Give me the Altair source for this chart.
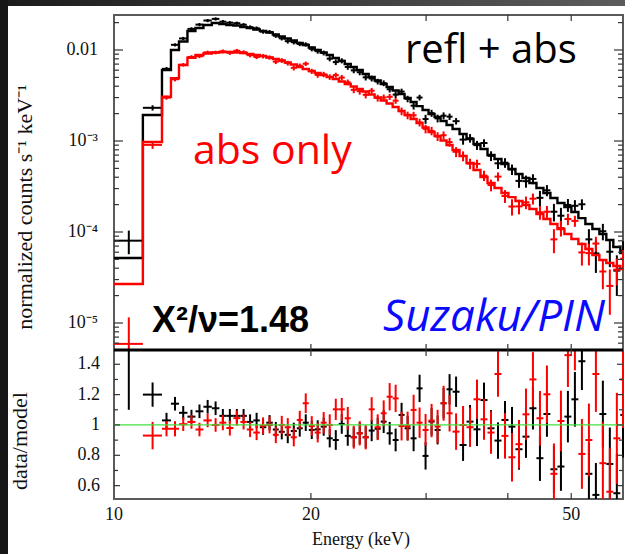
import altair as alt
import pandas as pd

# ---------------- data ----------------
E_EDGES = [10.00, 11.07, 11.84, 12.22, 12.57, 12.95, 13.32, 13.70, 14.11, 14.49,
           14.85, 15.22, 15.60, 15.96, 16.33, 16.71, 17.09, 17.49, 17.86, 18.24,
           18.63, 19.03, 19.43, 19.85, 20.27, 20.70, 21.14, 21.60, 22.06, 22.53,
           23.01, 23.50, 24.00, 24.51, 25.03, 25.57, 26.11, 26.67, 27.23, 27.81,
           28.41, 29.01, 29.63, 30.26, 30.91, 31.57, 32.24, 32.93, 33.75, 34.59,
           35.45, 36.33, 37.24, 38.17, 39.12, 40.09, 41.09, 42.12, 43.16, 44.24,
           45.34, 46.47, 47.63, 48.82, 50.03, 51.28, 52.56, 53.87, 55.21, 56.58,
           57.99, 59.44, 60.90]

MODEL_REFL = [5.18e-5, 1.93e-3, 6.03e-3, 1.00e-2, 1.240e-2, 1.617e-2, 1.745e-2, 1.883e-2, 1.980e-2, 1.931e-2,
              1.883e-2, 1.859e-2, 1.789e-2, 1.745e-2, 1.680e-2, 1.617e-2, 1.557e-2, 1.480e-2, 1.407e-2, 1.338e-2,
              1.272e-2, 1.194e-2, 1.135e-2, 1.065e-2, 1.000e-2, 9.39e-3, 8.81e-3, 8.17e-3, 7.57e-3, 7.02e-3,
              6.50e-3, 6.03e-3, 5.45e-3, 5.05e-3, 4.62e-3, 4.23e-3, 3.92e-3, 3.59e-3, 3.28e-3, 2.97e-3,
              2.68e-3, 2.42e-3, 2.19e-3, 1.98e-3, 1.835e-3, 1.659e-3, 1.499e-3, 1.355e-3, 1.194e-3, 1.052e-3,
              9.27e-4, 8.17e-4, 7.02e-4, 6.34e-4, 5.59e-4, 4.92e-4, 4.34e-4, 3.92e-4, 3.45e-4, 3.04e-4,
              2.68e-4, 2.36e-4, 2.08e-4, 1.88e-4, 1.66e-4, 1.42e-4, 1.224e-4, 1.079e-4, 9.51e-5, 8.17e-5,
              6.84e-5, 5.88e-5]

MODEL_ABS = [2.68e-5, 9.75e-4, 3.07e-3, 4.89e-3, 6.84e-3, 8.23e-3, 8.81e-3, 9.15e-3, 9.39e-3, 9.51e-3,
             9.51e-3, 9.39e-3, 9.27e-3, 9.04e-3, 8.81e-3, 8.59e-3, 8.27e-3, 7.96e-3, 7.67e-3, 7.29e-3,
             6.93e-3, 6.50e-3, 6.18e-3, 5.88e-3, 5.59e-3, 5.31e-3, 5.05e-3, 4.80e-3, 4.51e-3, 4.23e-3,
             3.97e-3, 3.73e-3, 3.50e-3, 3.24e-3, 3.01e-3, 2.79e-3, 2.58e-3, 2.36e-3, 2.14e-3, 1.93e-3,
             1.745e-3, 1.577e-3, 1.407e-3, 1.256e-3, 1.135e-3, 1.013e-3, 9.04e-4, 7.96e-4, 6.84e-4, 5.73e-4,
             4.80e-4, 4.02e-4, 3.45e-4, 3.04e-4, 2.68e-4, 2.42e-4, 2.19e-4, 1.98e-4, 1.789e-4, 1.577e-4,
             1.389e-4, 1.224e-4, 1.079e-4, 9.51e-5, 8.38e-5, 7.38e-5, 6.50e-5, 5.59e-5, 4.92e-5, 4.56e-5,
             4.23e-5, 3.92e-5]

RATIO_REFL = [1.55, 1.20, 1.03, 1.14, 1.08, 1.055, 1.09, 1.12, 1.11, 1.06,
              1.06, 1.06, 1.06, 1.02, 1.03, 0.985, 1.015, 0.97, 0.955, 0.935,
              0.96, 0.978, 1.015, 0.967, 0.971, 0.989, 0.912, 0.901, 1.007, 0.928,
              0.919, 0.945, 0.919, 0.963, 0.975, 1.022, 0.945, 0.901, 1.066, 0.978,
              0.912, 1.241, 0.796, 1.022, 0.967, 1.143, 1.235, 1.219, 0.868, 1.022,
              0.971, 1.164, 0.978, 0.897, 1.033, 0.989, 0.840, 0.923, 1.110, 0.781,
              1.072, 0.708, 0.726, 1.055, 1.169, 1.42, 0.678, 0.539, 1.072, 0.743,
              0.55, 1.066]
ERR_REFL = [0.45, 0.08, 0.05, 0.045, 0.045, 0.045, 0.045, 0.045, 0.045, 0.045,
            0.045, 0.045, 0.045, 0.05, 0.05, 0.05, 0.05, 0.05, 0.05, 0.055,
            0.055, 0.055, 0.055, 0.06, 0.06, 0.06, 0.06, 0.065, 0.065, 0.065,
            0.065, 0.07, 0.07, 0.07, 0.07, 0.075, 0.075, 0.075, 0.08, 0.08,
            0.085, 0.09, 0.09, 0.09, 0.095, 0.10, 0.10, 0.10, 0.105, 0.11,
            0.11, 0.115, 0.12, 0.12, 0.125, 0.13, 0.135, 0.14, 0.14, 0.15,
            0.15, 0.155, 0.16, 0.17, 0.18, 0.19, 0.20, 0.21, 0.22, 0.24,
            0.26, 0.28]
RATIO_ABS = [0.22, 0.93, 0.975, 0.975, 1.005, 1.02, 0.97, 1.03, 1.0, 1.015,
             0.98, 1.045, 1.02, 0.97, 0.95, 0.995, 1.0, 0.935, 1.0, 0.985,
             0.919, 1.033, 1.143, 0.993, 0.95, 1.015, 1.0, 1.103, 1.103, 1.044,
             0.919, 0.945, 0.919, 1.103, 0.985, 1.077, 1.186, 1.175, 0.993, 0.993,
             1.099, 1.015, 0.967, 1.029, 0.99, 1.143, 1.077, 0.956, 1.0, 0.985,
             1.169, 1.037, 0.95, 1.336, 0.928, 0.787, 0.873, 1.070, 1.300, 1.044,
             1.202, 0.678, 1.026, 1.46, 1.58, 0.809, 0.901, 1.336, 0.748, 0.56,
             0.912, 1.30]
ERR_ABS = [0.21, 0.09, 0.05, 0.05, 0.045, 0.045, 0.045, 0.045, 0.045, 0.05,
           0.05, 0.05, 0.05, 0.05, 0.05, 0.055, 0.055, 0.055, 0.06, 0.06,
           0.06, 0.06, 0.065, 0.065, 0.065, 0.07, 0.07, 0.07, 0.075, 0.075,
           0.075, 0.08, 0.08, 0.08, 0.085, 0.085, 0.09, 0.09, 0.095, 0.095,
           0.10, 0.10, 0.105, 0.11, 0.11, 0.115, 0.12, 0.12, 0.125, 0.13,
           0.13, 0.135, 0.14, 0.15, 0.15, 0.16, 0.16, 0.17, 0.18, 0.18,
           0.19, 0.20, 0.20, 0.21, 0.22, 0.23, 0.24, 0.25, 0.27, 0.29,
           0.30, 0.32]

# tick positions and tick labels
Y_MAJOR = [1e-5, 1e-4, 1e-3, 1e-2]
Y_LABELS = ["10⁻⁵", "10⁻⁴", "10⁻³", "0.01"]
Y_MINOR = [6e-6, 7e-6, 8e-6, 9e-6,
           2e-5, 3e-5, 4e-5, 5e-5, 6e-5, 7e-5, 8e-5, 9e-5,
           2e-4, 3e-4, 4e-4, 5e-4, 6e-4, 7e-4, 8e-4, 9e-4,
           2e-3, 3e-3, 4e-3, 5e-3, 6e-3, 7e-3, 8e-3, 9e-3,
           2e-2]
X_TICKS = [20, 30, 40, 50]
X_LABEL_VALUES = [10, 20, 50]
X_LABELS = ["10", "20", "50"]
R_MAJOR = [0.6, 0.8, 1.0, 1.2, 1.4]
R_LABELS = ["0.6", "0.8", "1", "1.2", "1.4"]
R_MINOR = [0.7, 0.9, 1.1, 1.3]

# ---------------- layout / style ----------------
W, H1, H2 = 509, 335, 149
H = H1 + H2
XS = alt.Scale(type="log", domain=[10, 60], nice=False, clamp=True)
YS = alt.Scale(type="log", domain=[5.05e-6, 0.02425], range=[H1, 0], nice=False, clamp=True)
RS = alt.Scale(type="linear", domain=[0.512, 1.494], range=[H, H1], nice=False, zero=False, clamp=True)
SERIF = "Liberation Serif"
BLACK, RED, GREEN, BLUE = "#000000", "#ff0000", "#3ee03e", "#0a0aff"
TICK = "#333333"
LAB = "#111111"

lo = E_EDGES[:-1]
hi = E_EDGES[1:]


def frames(model, ratio, err):
    df = pd.DataFrame({"lo": lo, "hi": hi, "model": model, "ratio": ratio, "err": err})
    df["cen"] = (df["lo"] + df["hi"]) / 2
    df["data"] = df["model"] * df["ratio"]
    df["dlo"] = df["model"] * (df["ratio"] - df["err"])
    df["dhi"] = df["model"] * (df["ratio"] + df["err"])
    df["rlo"] = df["ratio"] - df["err"]
    df["rhi"] = df["ratio"] + df["err"]
    step = pd.DataFrame({"E": list(lo) + [hi[-1]], "v": list(model) + [model[-1]]})
    inside = df[(df["ratio"] > 0.512) & (df["ratio"] < 1.494)]
    return df, step, inside


df_b, step_b, in_b = frames(MODEL_REFL, RATIO_REFL, ERR_REFL)
df_r, step_r, in_r = frames(MODEL_ABS, RATIO_ABS, ERR_ABS)
dummy = pd.DataFrame({"a": [0]})


def xq(f):
    return alt.X(f, type="quantitative", scale=XS, axis=None)


def yq(f):
    return alt.Y(f, type="quantitative", scale=YS, axis=None)


def rq(f):
    return alt.Y(f, type="quantitative", scale=RS, axis=None)


def top_series(df, step, color):
    line = alt.Chart(step).mark_line(interpolate="step-after", color=color, strokeWidth=2.4).encode(
        x=xq("E"), y=yq("v"))
    hb = alt.Chart(df).mark_rule(color=color, strokeWidth=2).encode(
        x=xq("lo"), x2="hi", y=yq("data"))
    vb = alt.Chart(df).mark_rule(color=color, strokeWidth=2).encode(
        x=xq("cen"), y=yq("dlo"), y2="dhi")
    return [line, hb, vb]


def bot_series(df, inside, color):
    hb = alt.Chart(inside).mark_rule(color=color, strokeWidth=2).encode(
        x=xq("lo"), x2="hi", y=rq("ratio"))
    vb = alt.Chart(df).mark_rule(color=color, strokeWidth=2).encode(
        x=xq("cen"), y=rq("rlo"), y2="rhi")
    return [hb, vb]


def text(s, x, y, align="left", baseline="alphabetic", **kw):
    return alt.Chart(dummy).mark_text(text=s, align=align, baseline=baseline, **kw).encode(
        x=alt.value(x), y=alt.value(y))


# ---------------- frame decoration ----------------
left_band = alt.Chart(dummy).mark_rect(color="#161616").encode(
    x=alt.value(-114), x2=alt.value(-106), y=alt.value(-15), y2=alt.value(H + 55))
top_band = alt.Chart(dummy).mark_rect(
    fill=alt.LinearGradient(gradient="linear", x1=0, x2=1, y1=0, y2=0,
                            stops=[alt.GradientStop(color="#1c1c1c", offset=0),
                                   alt.GradientStop(color="#5c5c5c", offset=1)])).encode(
    x=alt.value(-106), x2=alt.value(W + 2), y=alt.value(-15), y2=alt.value(-9))

# ---------------- ticks ----------------
ymaj = pd.DataFrame({"v": Y_MAJOR, "t": Y_LABELS})
ymin = pd.DataFrame({"v": Y_MINOR})
xt = pd.DataFrame({"E": X_TICKS})
xl = pd.DataFrame({"E": X_LABEL_VALUES, "t": X_LABELS})
rmaj = pd.DataFrame({"r": R_MAJOR, "t": R_LABELS})
rmin = pd.DataFrame({"r": R_MINOR})
one = pd.DataFrame({"r": [1.0]})


def rule(df, **enc):
    return alt.Chart(df).mark_rule(color=TICK, strokeWidth=1.2).encode(**enc)


ticks = [
    rule(ymaj, y=yq("v"), x=alt.value(0), x2=alt.value(9)),
    rule(ymin, y=yq("v"), x=alt.value(0), x2=alt.value(5)),
    rule(ymaj, y=yq("v"), x=alt.value(W), x2=alt.value(W - 9)),
    rule(ymin, y=yq("v"), x=alt.value(W), x2=alt.value(W - 5)),
    rule(xt, x=xq("E"), y=alt.value(0), y2=alt.value(6)),
    rule(xt, x=xq("E"), y=alt.value(H1 - 6), y2=alt.value(H1 + 6)),
    rule(xt, x=xq("E"), y=alt.value(H), y2=alt.value(H - 6)),
    rule(rmaj, y=rq("r"), x=alt.value(0), x2=alt.value(6)),
    rule(rmin, y=rq("r"), x=alt.value(0), x2=alt.value(4)),
    rule(rmaj, y=rq("r"), x=alt.value(W), x2=alt.value(W - 6)),
    rule(rmin, y=rq("r"), x=alt.value(W), x2=alt.value(W - 4)),
]

labels = [
    alt.Chart(ymaj).mark_text(align="right", baseline="middle", font=SERIF, fontSize=18, color=LAB).encode(
        y=yq("v"), x=alt.value(-16), text="t:N"),
    alt.Chart(rmaj).mark_text(align="right", baseline="middle", font=SERIF, fontSize=18, color=LAB).encode(
        y=rq("r"), x=alt.value(-14), text="t:N"),
    alt.Chart(xl).mark_text(align="center", baseline="alphabetic", font=SERIF, fontSize=18, color=LAB).encode(
        x=xq("E"), y=alt.value(H + 21), text="t:N"),
    text("normalized counts s⁻¹ keV⁻¹", -89, 192, align="center", baseline="middle",
         angle=270, font=SERIF, fontSize=22, color=LAB),
    text("data/model", -94, H1 + 91, align="center", baseline="middle",
         angle=270, font=SERIF, fontSize=22, color=LAB),
    text("Energy (keV)", 247, H + 46, align="center", font=SERIF, fontSize=18, color=LAB),
]

annotations = [
    text("refl + abs", 291, 48, font="Open Sans", fontSize=40, color=BLACK),
    text("abs only", 79, 149, font="Open Sans", fontSize=41, color=RED),
    text("Χ²/ν=1.48", 38, 317, font="Liberation Sans", fontSize=36, fontWeight="bold", color=BLACK),
    text("Suzaku/PIN", 269, 316, font="Open Sans", fontSize=44, fontStyle="italic", color=BLUE),
]

green = alt.Chart(one).mark_rule(color=GREEN, strokeWidth=1.3).encode(y=rq("r"))
separator = alt.Chart(dummy).mark_rule(color=BLACK, strokeWidth=3).encode(
    x=alt.value(0), x2=alt.value(W), y=alt.value(H1))

chart = alt.layer(
    left_band, top_band,
    *top_series(df_b, step_b, BLACK),
    *top_series(df_r, step_r, RED),
    *bot_series(df_b, in_b, BLACK),
    *bot_series(df_r, in_r, RED),
    green, separator,
    *ticks, *labels, *annotations,
).resolve_scale(y="independent").properties(
    width=W, height=H,
    autosize=alt.AutoSizeParams(type="none"),
    padding={"left": 114, "top": 15, "right": 2, "bottom": 55},
).configure(background="white").configure_view(stroke="#5a5a5a", strokeWidth=2)

chart.save("out.html", embed_options={"renderer": "svg", "actions": False})
